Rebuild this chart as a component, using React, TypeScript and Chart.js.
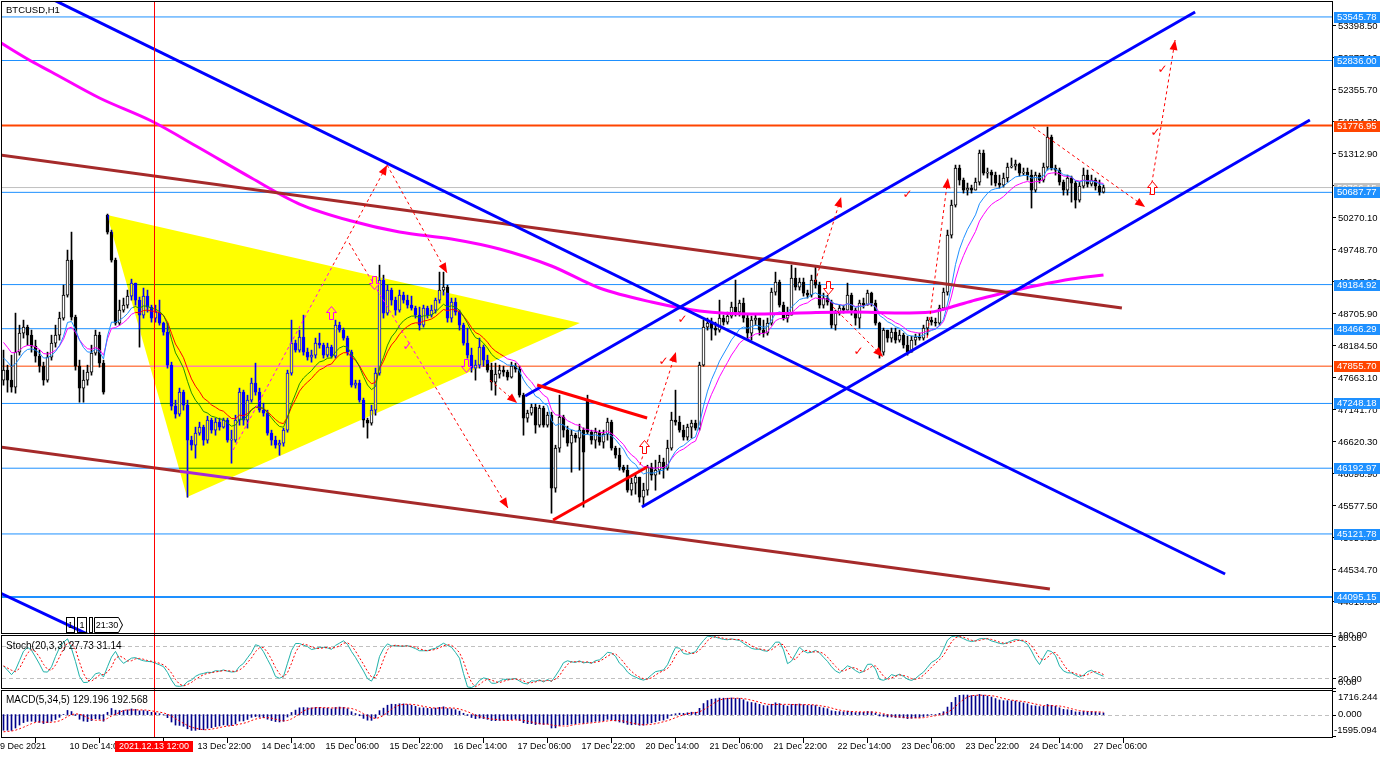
import { useEffect, useRef } from "react";
import { Chart, registerables } from "chart.js";

Chart.register(...registerables);

// ---------------- data (BTCUSD H1) ----------------
const CLOSE = [
  47791, 47628, 47514, 48084, 48394, 48492, 48361, 48182, 48019, 47856,
  47628, 48003, 48231, 48361, 48639, 49013, 49584, 48655, 47856, 47498,
  47628, 47758, 48068, 48361, 47905, 47432, 50040, 49584, 48557, 48769,
  48850, 48997, 49209, 48932, 48687, 48997, 48818, 48639, 48736, 48557,
  48410, 47872, 47204, 47074, 47432, 47220, 46650, 46568, 46764, 46862,
  46650, 46976, 46813, 46943, 46862, 46976, 46650, 46650, 46976, 47432,
  46976, 47302, 47579, 47432, 47139, 47090, 46764, 46650, 46568, 46601,
  46813, 47742, 48231, 48117, 48329, 48084, 48003, 48035, 48231, 48198,
  48035, 48166, 48019, 48524, 48443, 48313, 48084, 47546, 47579, 47302,
  46976, 46927, 47139, 47742, 49258, 48720, 49095, 48932, 48769, 49013,
  48932, 48850, 48802, 48687, 48524, 48802, 48687, 48769, 48932, 49095,
  49144, 48639, 48899, 48736, 48524, 48231, 48035, 47824, 47872, 48166,
  47954, 47791, 47595, 47726, 47791, 47758, 47677, 47856, 47807, 47383,
  47009, 47090, 47188, 46894, 47172, 46894, 47057, 45868, 46520, 47025,
  46813, 46601, 46731, 46683, 46813, 46454, 46780, 46650, 46780, 46617,
  46748, 46943, 46520, 46405, 46210, 46161, 45835, 45949, 46047, 45721,
  45835, 46210, 46079, 46161, 46291, 46194, 46520, 46976, 46943, 46813,
  46699, 46862, 46927, 46846, 47872, 48492, 48557, 48476, 48443, 48639,
  48573, 48671, 48818, 48736, 48883, 48639, 48394, 48606, 48639, 48443,
  48394, 48557, 49062, 49225, 48850, 48639, 48687, 49291, 49144, 49225,
  49046, 49013, 49258, 49176, 48850, 48965, 48899, 48524, 48720, 48802,
  48769, 49013, 48769, 48639, 48883, 48850, 49046, 48883, 48557, 48084,
  48443, 48313, 48410, 48280, 48361, 48198, 48084, 48280, 48329, 48313,
  48476, 48606, 48573, 48557, 48802, 49062, 49991, 50480, 51084, 50888,
  50725, 50758, 50725, 50855, 51328, 51002, 51018, 50969, 50839, 50806,
  50921, 51100, 51116, 51149, 51002, 51018, 50969, 50725, 50969, 50888,
  51100, 51589, 51084, 51051, 50855, 50725, 50921, 50839, 50562, 50790,
  50969, 50823, 50888, 50790, 50692, 50766,
];
const HIGH = [
  48117, 47872, 48035, 48720, 48524, 48606, 48524, 48443, 48280, 48117,
  47921, 48084, 48361, 48524, 48736, 49176, 49747, 50040, 48687, 47954,
  47791, 47872, 48198, 48443, 48410, 47954, 50334, 50073, 49617, 48932,
  48965, 49095, 49274, 49209, 48981, 49128, 49095, 48850, 48850, 48932,
  48573, 48557, 47921, 47302, 47498, 47465, 47302, 46715, 46862, 46943,
  46894, 47041, 47009, 47009, 47009, 47009, 47009, 46813, 47057, 47498,
  47465, 47383, 47661, 47905, 47498, 47253, 47139, 46813, 46715, 46650,
  46846, 47791, 48606, 48280, 48443, 48687, 48150, 48117, 48313, 48394,
  48231, 48231, 48198, 48606, 48573, 48476, 48345, 48117, 47628, 47628,
  47335, 47009, 47220, 47824, 49502, 49339, 49176, 49128, 48981, 49095,
  49062, 49013, 48997, 48834, 48818, 48850, 48834, 48850, 48965, 49388,
  49388, 49176, 48965, 48965, 48769, 48557, 48476, 48150, 47954, 48313,
  48200, 48035, 47905, 47905, 47872, 47856, 47791, 47921, 47905, 47856,
  47416, 47139, 47237, 47237, 47220, 47204, 47106, 47106, 46568, 47383,
  47057, 46878, 46813, 46764, 46911, 46850, 47383, 46813, 46846, 46813,
  46813, 47009, 46976, 46552, 46520, 46242, 46242, 46031, 46096, 46047,
  45949, 46242, 46275, 46324, 46405, 46357, 46650, 47106, 47465, 47041,
  46894, 46911, 46976, 46976, 47921, 48606, 48639, 48639, 48573, 48932,
  48687, 48736, 48899, 49258, 48932, 48965, 48687, 48671, 48704, 48639,
  48606, 48639, 49128, 49388, 49258, 48899, 48818, 49502, 49454, 49291,
  49291, 49095, 49339, 49470, 49225, 49046, 49013, 48932, 48769, 48850,
  48850, 49209, 49046, 48802, 48932, 48965, 49095, 49062, 48932, 48573,
  48476, 48443, 48476, 48476, 48443, 48394, 48345, 48345, 48378, 48394,
  48524, 48655, 48655, 48639, 48850, 49128, 50073, 50562, 51132, 51132,
  50921, 50839, 50806, 50921, 51377, 51377, 51084, 51051, 51018, 50969,
  51002, 51165, 51247, 51214, 51165, 51084, 51084, 51051, 51018, 51002,
  51165, 51752, 51621, 51132, 51084, 50888, 50969, 50953, 50870, 50855,
  51084, 51051, 50969, 50921, 50888, 50806,
];
const LOW = [
  47546, 47432, 47432, 47416, 48035, 48313, 48198, 48084, 47921, 47758,
  47546, 47595, 47954, 48166, 48280, 48606, 48981, 48606, 47791, 47269,
  47269, 47546, 47709, 48035, 47840, 47400, 50008, 49551, 48524, 48524,
  48736, 48802, 48932, 48850, 48166, 48639, 48736, 48573, 48573, 48524,
  48361, 47824, 47139, 47009, 47041, 47139, 45721, 46487, 46357, 46731,
  46568, 46601, 46764, 46731, 46813, 46846, 46617, 46275, 46617, 46894,
  46894, 46846, 47269, 47383, 47106, 47041, 46731, 46568, 46520, 46405,
  46552, 46780, 47709, 48084, 48084, 48035, 47954, 47921, 47987, 48150,
  47987, 48003, 47987, 47987, 48410, 48280, 48035, 47514, 47498, 47269,
  46862, 46683, 46894, 47057, 47709, 48639, 48687, 48850, 48687, 48736,
  48883, 48802, 48769, 48639, 48443, 48492, 48639, 48655, 48720, 48883,
  49013, 48573, 48573, 48687, 48443, 48198, 47987, 47758, 47628, 47824,
  47856, 47758, 47465, 47383, 47661, 47693, 47628, 47661, 47758, 47351,
  46731, 46943, 47057, 46764, 46862, 46862, 46862, 45460, 45802, 46454,
  46699, 46552, 46128, 46617, 46161, 45558, 46748, 46585, 46520, 46568,
  46520, 46650, 46487, 46357, 46161, 46128, 45802, 45753, 45770, 45639,
  45590, 45753, 45998, 45835, 46096, 46031, 46161, 46487, 46894, 46780,
  46650, 46650, 46683, 46813, 46813, 47856, 48443, 48280, 48361, 48410,
  48524, 48541, 48639, 48671, 48671, 48573, 48313, 48280, 48524, 48361,
  48329, 48361, 48524, 49013, 48818, 48606, 48573, 48687, 49095, 49095,
  48997, 48965, 48981, 49128, 48802, 48802, 48850, 48476, 48443, 48687,
  48720, 48769, 48687, 48524, 48476, 48802, 48850, 48834, 48524, 47987,
  48035, 48247, 48247, 48231, 48247, 48150, 48035, 48084, 48198, 48280,
  48280, 48361, 48524, 48508, 48524, 48769, 49013, 49943, 50448, 50806,
  50676, 50643, 50676, 50725, 50806, 50969, 50921, 50806, 50790, 50758,
  50774, 50855, 51084, 51051, 50953, 50969, 50888, 50432, 50692, 50839,
  50855, 51051, 51051, 50969, 50806, 50643, 50643, 50529, 50432, 50529,
  50758, 50774, 50790, 50725, 50643, 50676,
];
// bars whose open is not the previous close (first bar and weekend gaps)
const GAP_BARS = [0, 26, 146];
const GAP_OPENS = [47628, 50317, 47302];

const X_TICK_BARS = [0, 16, 32, 48, 64, 80, 96, 112, 128, 144, 160, 176, 192, 208, 224, 240, 256, 272];
const X_LABELS = [
  "9 Dec 2021", "10 Dec 14:00", "13 Dec 06:00", "13 Dec 22:00", "14 Dec 14:00", "15 Dec 06:00",
  "15 Dec 22:00", "16 Dec 14:00", "17 Dec 06:00", "17 Dec 22:00", "20 Dec 14:00", "21 Dec 06:00",
  "21 Dec 22:00", "22 Dec 14:00", "23 Dec 06:00", "23 Dec 22:00", "24 Dec 14:00", "27 Dec 06:00",
];
const Y_TICKS = [
  44013.3, 44534.7, 45056.1, 45577.5, 46098.9, 46620.3, 47141.7, 47663.1, 48184.5, 48705.9,
  49227.3, 49748.7, 50270.1, 50791.5, 51312.9, 51834.3, 52355.7, 52877.1, 53398.5,
];

const LEVELS_BLUE = [53545.78, 52836.0, 50687.77, 49184.92, 48466.29, 47248.18, 46192.97, 45121.78];
const LEVELS_RED = [51776.95, 47855.7];
const LEVELS_BOLD = [44095.15];
const BID_PRICE = 50766.15;

const LONG_MA_BARS = [-1, 6, 12, 24, 37, 49, 62, 74, 87, 99, 112, 124, 137, 149, 162, 174, 187, 199, 212, 224, 232, 237, 243, 249, 259, 267, 275];
const LONG_MA_VALUES = [53137, 52860, 52649, 52225, 51850, 51410, 50922, 50498, 50221, 50042, 49928, 49765, 49488, 49129, 48901, 48755, 48706, 48722, 48738, 48722, 48738, 48820, 48934, 49032, 49178, 49276, 49341];

// trend objects: [bar, price] end points
const BLUE_LINES = [
  [[12.6, 53822], [305.4, 44469]],
  [[-0.9, 44160], [24.1, 43394]],
  [[130.4, 47370], [297.9, 53626]],
  [[159.6, 45561], [326.6, 51867]],
];
const BROWN_LINES = [
  [[-0.9, 51296], [279.6, 48803]],
  [[-0.9, 46539], [261.6, 44225]],
];
const RED_LINES = [
  [[133.4, 47549], [160.9, 47011]],
  [[137.4, 45349], [160.9, 46213]],
];
const TRIANGLE = [[25.9, 50319], [144.1, 48559], [45.9, 45724]];
const ARROW_PATHS = [
  [[57.4, 46490], [95.9, 51133]],
  [[95.9, 51133], [110.9, 49374]],
  [[86.4, 49863], [126.1, 45545]],
  [[159.1, 46245], [168.1, 48087]],
  [[202.9, 49227], [209.4, 50612]],
  [[230.9, 48315], [236.1, 50922]],
  [[257.4, 51753], [285.4, 50449]],
  [[286.6, 50645], [292.9, 53170]],
  [[207.4, 48820], [219.9, 48005]],
  [[121.6, 47630], [128.4, 47256]],
];
const CHECK_MARKS = [[101, 48168], [169.75, 48608], [165, 47924], [226, 50645], [213.75, 48087], [288, 51655], [289.75, 52681]];
const UP_MARKS = [[160, 46539], [287, 50759], [81.75, 48722]];
const DOWN_MARKS = [[92.5, 49227], [115.5, 47875], [206, 49146]];
const CURSOR_BAR = 37.65;
const CURSOR_LABEL = "2021.12.13 12:00";

const FAST_MA_PERIOD = 10, FAST_MA_SEED = 48035;
const SLOW_MA_PERIOD = 14, SLOW_MA_SEED = 48313;
const MACD_FAST = 5, MACD_SLOW = 34, MACD_SIGNAL = 5;
const MACD_FAST_SEED = 47900, MACD_SLOW_SEED = 49050, MACD_PRE = -1250;
const STO_K = 20, STO_SLOWING = 3, STO_D = 3;
const STOCH_LEVELS = [20, 80];
const MACD_LEVELS = [0];
const STOCH_TITLE = "Stoch(20,3,3) 27.73 31.14";
const MACD_TITLE = "MACD(5,34,5) 129.196 192.568";
const SYMBOL_TITLE = "BTCUSD,H1";

// ---------------- derived series ----------------
const N = CLOSE.length;
const OPEN = CLOSE.map((_, i) => {
  const g = GAP_BARS.indexOf(i);
  return g >= 0 ? GAP_OPENS[g] : CLOSE[i - 1];
});
function ema(src: number[], period: number, seed: number) {
  const k = 2 / (period + 1);
  let p = seed;
  return src.map((v) => (p = p + k * (v - p)));
}
const MA_FAST = ema(CLOSE, FAST_MA_PERIOD, FAST_MA_SEED);
const MA_SLOW = ema(CLOSE, SLOW_MA_PERIOD, SLOW_MA_SEED);
const E_FAST = ema(CLOSE, MACD_FAST, MACD_FAST_SEED);
const E_SLOW = ema(CLOSE, MACD_SLOW, MACD_SLOW_SEED);
const MACD_MAIN = E_FAST.map((v, i) => v - E_SLOW[i]);
const MACD_SIG = MACD_MAIN.map((_, i) => {
  let s = 0;
  for (let j = i - MACD_SIGNAL + 1; j <= i; j++) s += j >= 0 ? MACD_MAIN[j] : MACD_PRE;
  return s / MACD_SIGNAL;
});
const stoNum: number[] = [];
const stoDen: number[] = [];
for (let i = 0; i < N; i++) {
  let lo = Infinity, hi = -Infinity;
  for (let j = Math.max(0, i - STO_K + 1); j <= i; j++) {
    lo = Math.min(lo, LOW[j]);
    hi = Math.max(hi, HIGH[j]);
  }
  stoNum.push(CLOSE[i] - lo);
  stoDen.push(hi - lo);
}
const STO_MAIN = CLOSE.map((_, i) => {
  let a = 0, b = 0;
  for (let j = Math.max(0, i - STO_SLOWING + 1); j <= i; j++) { a += stoNum[j]; b += stoDen[j]; }
  return b > 0 ? (100 * a) / b : 50;
});
const STO_SIG = STO_MAIN.map((_, i) => {
  let s = 0, n = 0;
  for (let j = Math.max(0, i - STO_D + 1); j <= i; j++) { s += STO_MAIN[j]; n++; }
  return s / n;
});

// ---------------- chart ----------------
const FONT = "'Liberation Sans', Arial, sans-serif";
const X_MIN = -0.375, X_MAX = 332.125;

function seg(points: number[][]) {
  return points.map(([x, y]) => ({ x, y }));
}

function buildConfig(): any {
  const datasets: any[] = [];
  const lineBase = { type: "line", yAxisID: "y", pointRadius: 0, pointHoverRadius: 0, fill: false, tension: 0, clip: 0 };

  LEVELS_BLUE.forEach((p) => datasets.push({ ...lineBase, data: seg([[X_MIN - 1, p], [X_MAX + 1, p]]), borderColor: "#1E90FF", borderWidth: 1, order: 100 }));
  LEVELS_RED.forEach((p, i) => datasets.push({ ...lineBase, data: seg([[X_MIN - 1, p], [X_MAX + 1, p]]), borderColor: "#FF4500", borderWidth: i === 0 ? 2 : 1, order: 100 }));
  LEVELS_BOLD.forEach((p) => datasets.push({ ...lineBase, data: seg([[X_MIN - 1, p], [X_MAX + 1, p]]), borderColor: "#1E90FF", borderWidth: 2, order: 100 }));
  datasets.push({ ...lineBase, data: seg([[X_MIN - 1, BID_PRICE], [X_MAX + 1, BID_PRICE]]), borderColor: "#C0C0C0", borderWidth: 1, order: 101 });

  datasets.push({
    type: "bar", yAxisID: "y", grouped: false, barThickness: 1, clip: 0, order: 60,
    data: CLOSE.map((_, i) => ({ x: i, y: [LOW[i], HIGH[i]] })),
    backgroundColor: "#000000", borderWidth: 0,
  });
  datasets.push({
    type: "bar", yAxisID: "y", grouped: false, barThickness: 3, clip: 0, order: 55, minBarLength: 1,
    data: CLOSE.map((c, i) => ({ x: i, y: [OPEN[i], c] })),
    backgroundColor: CLOSE.map((c, i) => (c >= OPEN[i] ? "#FFFFFF" : "#000000")),
    borderColor: "#000000", borderWidth: 1, borderSkipped: false,
  });

  datasets.push({ ...lineBase, data: MA_SLOW.map((v, i) => ({ x: i, y: v })), borderColor: "#FF00FF", borderWidth: 1, order: 50 });
  datasets.push({ ...lineBase, data: MA_FAST.map((v, i) => ({ x: i, y: v })), borderColor: "#1E90FF", borderWidth: 1, order: 49 });
  datasets.push({ ...lineBase, data: LONG_MA_BARS.map((b, i) => ({ x: b, y: LONG_MA_VALUES[i] })), borderColor: "#FF00FF", borderWidth: 3, cubicInterpolationMode: "monotone", order: 45 });

  BROWN_LINES.forEach((l) => datasets.push({ ...lineBase, data: seg(l), borderColor: "#A52A2A", borderWidth: 3, order: 40 }));
  BLUE_LINES.forEach((l) => datasets.push({ ...lineBase, data: seg(l), borderColor: "#0000FF", borderWidth: 3, order: 35 }));
  RED_LINES.forEach((l) => datasets.push({ ...lineBase, data: seg(l), borderColor: "#FF0000", borderWidth: 3, order: 30 }));
  ARROW_PATHS.forEach((l) => datasets.push({ ...lineBase, data: seg(l), borderColor: "#FF0000", borderWidth: 1, borderDash: [3, 3], order: 25 }));

  // stochastic pane
  datasets.push({ ...lineBase, yAxisID: "ys", data: STO_SIG.map((v, i) => ({ x: i, y: v })), borderColor: "#FF0000", borderWidth: 1, borderDash: [2, 2], order: 10 });
  datasets.push({ ...lineBase, yAxisID: "ys", data: STO_MAIN.map((v, i) => ({ x: i, y: v })), borderColor: "#20B2AA", borderWidth: 1, order: 11 });

  // MACD pane
  datasets.push({
    type: "bar", yAxisID: "ym", grouped: false, barThickness: 1, clip: 0, order: 12,
    data: MACD_MAIN.map((v, i) => ({ x: i, y: v })), backgroundColor: "#00008B", borderWidth: 0,
  });
  datasets.push({ ...lineBase, yAxisID: "ym", data: MACD_SIG.map((v, i) => ({ x: i, y: v })), borderColor: "#FF0000", borderWidth: 1, borderDash: [2, 2], order: 9 });

  const fixW = (s: any) => { s.width = 58; s.paddingTop = 0; s.paddingBottom = 0; };

  const plugin = {
    id: "mt4",
    beforeDraw(chart: any) {
      const ctx = chart.ctx;
      ctx.save();
      ctx.fillStyle = "#FFFFFF";
      ctx.fillRect(0, 0, chart.width, chart.height);
      ctx.restore();
    },
    beforeDatasetsDraw(chart: any) {
      const { ctx, chartArea } = chart;
      const ys = chart.scales.ys, ym = chart.scales.ym;
      ctx.save();
      ctx.strokeStyle = "#C0C0C0";
      ctx.lineWidth = 1;
      ctx.setLineDash([4, 3]);
      const h = (y: number) => {
        const yy = Math.round(y) + 0.5;
        ctx.beginPath(); ctx.moveTo(chartArea.left, yy); ctx.lineTo(chartArea.right, yy); ctx.stroke();
      };
      STOCH_LEVELS.forEach((v) => h(ys.getPixelForValue(v)));
      MACD_LEVELS.forEach((v) => h(ym.getPixelForValue(v)));
      ctx.restore();
    },
    afterDatasetsDraw(chart: any) {
      const { ctx } = chart;
      const xs = chart.scales.x, y = chart.scales.y;
      const X = (b: number) => xs.getPixelForValue(b);
      const Y = (v: number) => y.getPixelForValue(v);
      ctx.save();
      ctx.beginPath();
      ctx.rect(xs.left, y.top, xs.right - xs.left, y.bottom - y.top);
      ctx.clip();

      // arrow heads
      ctx.fillStyle = "#FF0000";
      ARROW_PATHS.forEach(([a, b]) => {
        const x0 = X(a[0]), y0 = Y(a[1]), x1 = X(b[0]), y1 = Y(b[1]);
        const ang = Math.atan2(y1 - y0, x1 - x0);
        const len = 10, w = 4;
        ctx.beginPath();
        ctx.moveTo(x1, y1);
        ctx.lineTo(x1 - len * Math.cos(ang) + w * Math.sin(ang), y1 - len * Math.sin(ang) - w * Math.cos(ang));
        ctx.lineTo(x1 - len * Math.cos(ang) - w * Math.sin(ang), y1 - len * Math.sin(ang) + w * Math.cos(ang));
        ctx.closePath();
        ctx.fill();
      });
      // check marks
      ctx.font = "bold 12px 'DejaVu Sans'";
      ctx.textAlign = "center";
      ctx.textBaseline = "middle";
      CHECK_MARKS.forEach(([b, v]) => ctx.fillText("\u2713", X(b), Y(v)));
      // hollow arrows
      ctx.strokeStyle = "#FF0000";
      ctx.lineWidth = 1;
      const hollow = (cx: number, cy: number, dir: number) => {
        const pts = [[0, -7], [5, -1], [2, -1], [2, 6], [-2, 6], [-2, -1], [-5, -1]];
        ctx.beginPath();
        pts.forEach(([dx, dy], i) => {
          const px = Math.round(cx) + 0.5 + dx, py = Math.round(cy) + 0.5 + dy * dir;
          if (i === 0) ctx.moveTo(px, py); else ctx.lineTo(px, py);
        });
        ctx.closePath();
        ctx.fillStyle = "#FFFFFF";
        ctx.fill();
        ctx.stroke();
      };
      UP_MARKS.forEach(([b, v]) => hollow(X(b), Y(v), 1));
      DOWN_MARKS.forEach(([b, v]) => hollow(X(b), Y(v), -1));

      // bar timer boxes (bottom-left)
      ctx.strokeStyle = "#000000";
      ctx.fillStyle = "#000000";
      ctx.font = `9px ${FONT}`;
      const bottom = y.bottom - 1.5;
      ctx.strokeRect(66.5, bottom - 15, 8, 15);
      ctx.fillText("1", 70.5, bottom - 7);
      ctx.strokeRect(77.5, bottom - 15, 9, 15);
      ctx.fillText("1", 82, bottom - 7);
      ctx.strokeRect(89.5, bottom - 15, 3, 15);
      ctx.beginPath();
      ctx.moveTo(94.5, bottom - 15); ctx.lineTo(118.5, bottom - 15); ctx.lineTo(122.5, bottom - 7.5);
      ctx.lineTo(118.5, bottom); ctx.lineTo(94.5, bottom); ctx.closePath(); ctx.stroke();
      ctx.fillText("21:30", 107, bottom - 7);

      // filled triangle (MT4 xor-like look)
      ctx.globalCompositeOperation = "difference";
      ctx.fillStyle = "#0000FF";
      ctx.beginPath();
      TRIANGLE.forEach(([b, v], i) => (i === 0 ? ctx.moveTo(X(b), Y(v)) : ctx.lineTo(X(b), Y(v))));
      ctx.closePath();
      ctx.fill();
      ctx.restore();

      // vertical cursor line
      ctx.save();
      ctx.strokeStyle = "#FF0000";
      ctx.lineWidth = 1;
      const cx = Math.round(X(CURSOR_BAR)) + 0.5;
      ctx.beginPath(); ctx.moveTo(cx, chart.chartArea.top); ctx.lineTo(cx, chart.chartArea.bottom); ctx.stroke();
      ctx.restore();
    },
    afterDraw(chart: any) {
      const { ctx, chartArea } = chart;
      const xs = chart.scales.x, y = chart.scales.y, ys = chart.scales.ys, ym = chart.scales.ym;
      const L = chartArea.left - 0.5, R = chartArea.right + 0.5;
      ctx.save();
      // pane frames
      ctx.strokeStyle = "#000000";
      ctx.lineWidth = 1;
      const frame = (t: number, b: number) => ctx.strokeRect(L, t, R - L, b - t);
      frame(chartArea.top - 0.5, y.bottom - 0.5);
      frame(ys.top + 1.5, ys.bottom - 1.5);
      frame(ym.top + 0.5, ym.bottom + 0.5);

      // titles
      ctx.fillStyle = "#000000";
      ctx.textBaseline = "middle";
      ctx.textAlign = "left";
      ctx.font = `9.5px ${FONT}`;
      ctx.fillText(SYMBOL_TITLE, 6, 10);
      ctx.font = `10px ${FONT}`;
      ctx.fillText(STOCH_TITLE, 6, ys.top + 12);
      ctx.fillText(MACD_TITLE, 6, ym.top + 10);

      // x labels
      ctx.font = `9px ${FONT}`;
      const ly = chartArea.bottom + 9.5;
      X_TICK_BARS.forEach((b, i) => {
        const x = i === 0 ? 0 : xs.getPixelForValue(b) + 2;
        ctx.fillText(X_LABELS[i], x, ly);
      });
      // cursor time label
      const cx = Math.round(xs.getPixelForValue(CURSOR_BAR));
      ctx.fillStyle = "#FF0000";
      ctx.fillRect(cx - 39, chartArea.bottom + 4, 78, 11);
      ctx.fillStyle = "#FFFFFF";
      ctx.textAlign = "center";
      ctx.fillText(CURSOR_LABEL, cx, ly);

      // price boxes on the right axis
      ctx.textAlign = "left";
      ctx.font = `9.5px ${FONT}`;
      const box = (price: number, bg: string) => {
        const py = Math.round(y.getPixelForValue(price));
        ctx.fillStyle = bg;
        ctx.fillRect(chartArea.right + 2, py - 5, 46, 11);
        ctx.fillStyle = "#FFFFFF";
        ctx.fillText(price.toFixed(2), chartArea.right + 5, py + 0.5);
      };
      box(BID_PRICE, "#C0C0C0");
      LEVELS_BLUE.forEach((p) => box(p, "#1E90FF"));
      LEVELS_BOLD.forEach((p) => box(p, "#1E90FF"));
      LEVELS_RED.forEach((p) => box(p, "#FF4500"));

      // sub-window axis labels
      ctx.fillStyle = "#000000";
      const ax = chartArea.right + 6;
      const tick = (py: number) => {
        const yy = Math.round(py) + 0.5;
        ctx.beginPath(); ctx.moveTo(chartArea.right, yy); ctx.lineTo(chartArea.right + 4, yy); ctx.stroke();
      };
      [100, 80, 20, 0].forEach((v) => tick(Math.min(Math.max(ys.getPixelForValue(v), ys.top + 2), ys.bottom - 2)));
      ctx.fillText("100.00", ax, ys.top + 1);
      ctx.fillText("80.00", ax, ys.top + 4);
      ctx.fillText("20.00", ax, ys.bottom - 10.5);
      ctx.fillText("0.00", ax, ys.bottom - 7.5);
      tick(ym.top + 1); tick(ym.getPixelForValue(0)); tick(ym.bottom - 1);
      ctx.fillText("1716.244", ax, ym.top + 7);
      ctx.fillText("0.000", ax, ym.getPixelForValue(0));
      ctx.fillText("-1595.094", chartArea.right + 2, ym.bottom - 7);
      ctx.restore();
    },
  };

  return {
    type: "line",
    data: { datasets },
    plugins: [plugin],
    options: {
      animation: false,
      responsive: false,
      devicePixelRatio: 1,
      events: [],
      layout: { padding: { left: 2, top: 2, right: 0, bottom: 0 } },
      plugins: { legend: { display: false }, tooltip: { enabled: false }, title: { display: false } },
      scales: {
        x: {
          type: "linear", position: "bottom", min: X_MIN, max: X_MAX, offset: false,
          afterBuildTicks: (s: any) => { s.ticks = X_TICK_BARS.map((v) => ({ value: v })); },
          afterFit: (s: any) => { s.height = 20; s.paddingLeft = 0; s.paddingRight = 0; },
          ticks: { display: false },
          grid: { display: true, drawOnChartArea: false, drawTicks: true, tickLength: 6, color: "#000000" },
          border: { display: true, color: "#000000" },
        },
        y: {
          type: "linear", position: "right", stack: "panes", stackWeight: 632,
          min: 43491.6, max: 53789.4,
          afterBuildTicks: (s: any) => { s.ticks = Y_TICKS.map((v) => ({ value: v })); },
          afterFit: fixW,
          ticks: { autoSkip: false, color: "#000000", padding: 2, font: { family: FONT, size: 9.5 }, callback: (v: any) => Number(v).toFixed(2) },
          grid: { display: true, drawOnChartArea: false, drawTicks: true, tickLength: 4, color: "#000000" },
          border: { display: true, color: "#000000" },
        },
        ys: {
          type: "linear", position: "right", stack: "panes", stackWeight: 56, min: -1, max: 101,
          afterFit: fixW, ticks: { display: false }, grid: { display: false },
          border: { display: true, color: "#000000" },
        },
        ym: {
          type: "linear", position: "right", stack: "panes", stackWeight: 47, min: -1595.094, max: 1751.8,
          afterFit: fixW, ticks: { display: false }, grid: { display: false },
          border: { display: true, color: "#000000" },
        },
      },
    },
  };
}

export default function App() {
  const ref = useRef<HTMLCanvasElement>(null);
  useEffect(() => {
    if (!ref.current) return;
    Chart.defaults.font.family = FONT;
    const chart = new Chart(ref.current, buildConfig());
    return () => chart.destroy();
  }, []);
  return (
    <div style={{ position: "fixed", left: 0, top: 0, width: 1390, height: 757, background: "#FFFFFF" }}>
      <canvas ref={ref} width={1390} height={757} style={{ display: "block", width: 1390, height: 757 }} />
    </div>
  );
}
